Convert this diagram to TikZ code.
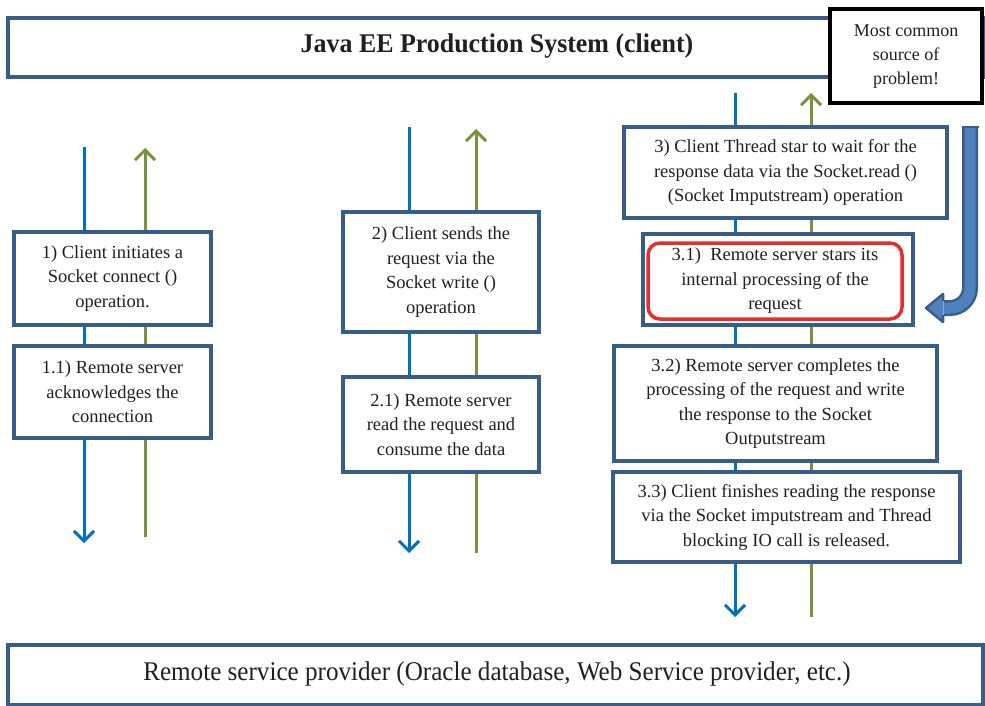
\documentclass[tikz,border=0pt]{standalone}
\usepackage{fontspec}
\setmainfont{Liberation Serif}
\usetikzlibrary{arrows.meta}
\definecolor{boxblue}{RGB}{56,93,138}
\definecolor{lineblue}{RGB}{0,112,192}
\definecolor{linegreen}{RGB}{119,147,60}
\definecolor{hotred}{RGB}{232,45,45}
\definecolor{arrowfill}{RGB}{79,129,189}
\definecolor{txt}{RGB}{35,31,32}
\tikzset{
  stepbox/.style={draw=boxblue, line width=4pt, fill=white, inner sep=0pt, align=center,
    font=\fontsize{18.5}{24.5}\selectfont, text=txt},
  downflow/.style={draw=lineblue, line width=3pt, -{Straight Barb[length=10pt,width=20pt]}},
  upflow/.style={draw=linegreen, line width=3pt, -{Straight Barb[length=10pt,width=20pt]}},
  blockedge/.style={boxblue, line width=2.5pt, line join=round},
}
\begin{document}
\begin{tikzpicture}[x=1pt,y=-1pt]
\useasboundingbox (0,0) rectangle (985,706);
\fill[white] (0,0) rectangle (985,706);
% flow line end points
\coordinate (b1s) at (84,147);  \coordinate (b1e) at (84,543);
\coordinate (g1s) at (145,537); \coordinate (g1e) at (145,148);
\coordinate (b2s) at (409,127); \coordinate (b2e) at (409,553);
\coordinate (g2s) at (476,553); \coordinate (g2e) at (476,129);
\coordinate (b3s) at (735,93);  \coordinate (b3e) at (735,617);
\coordinate (g3s) at (811,617); \coordinate (g3e) at (811,93);
\draw[downflow] (b1s) -- (b1e);
\draw[upflow] (g1s) -- (g1e);
\draw[downflow] (b2s) -- (b2e);
\draw[upflow] (g2s) -- (g2e);
\draw[downflow] (b3s) -- (b3e);
\draw[upflow] (g3s) -- (g3e);
% title and bottom
\node[draw=boxblue, line width=4pt, fill=white, minimum width=975pt, minimum height=59pt, inner sep=0pt] (title) at (495.5,47.5) {};
\node[text=txt, inner sep=0pt] (titletext) at (497,46.5) {\scalebox{0.96}[1]{\fontsize{27}{30}\selectfont\bfseries Java EE Production System (client)}};
\node[draw=black, line width=4pt, fill=white, minimum width=152pt, minimum height=94pt, inner sep=0pt, align=center, text=txt, font=\fontsize{18}{24}\selectfont] (callout) at (906,56.5) {Most common\\source of\\problem!};
\node[draw=boxblue, line width=4pt, fill=white, minimum width=975pt, minimum height=60pt, inner sep=0pt] (remote) at (495.5,675) {};
\node[text=txt, inner sep=0pt] (remotetext) at (497,674.5) {\scalebox{0.93}[1]{\fontsize{27}{30}\selectfont Remote service provider (Oracle database, Web Service provider, etc.)}};
% column 1
\node[stepbox, minimum width=197pt, minimum height=93pt] (s1) at (112.5,278.5) {1) Client initiates a\\Socket connect ()\\operation.};
\node[stepbox, minimum width=197pt, minimum height=92pt] (s11) at (112.5,392) {1.1) Remote server\\acknowledges the\\connection};
% column 2
\node[stepbox, minimum width=196pt, minimum height=120pt] (s2) at (441,272) {2) Client sends the\\request via the\\Socket write ()\\operation};
\node[stepbox, minimum width=196pt, minimum height=95pt] (s21) at (441,424.5) {2.1) Remote server\\read the request and\\consume the data};
% column 3
\node[stepbox, minimum width=323pt, minimum height=91pt] (s3) at (785.5,172.5) {3) Client Thread star to wait for the\\response data via the Socket.read ()\\(Socket Imputstream) operation};
\node[stepbox, minimum width=270pt, minimum height=91pt] (s31) at (778,279.5) {};
\node[draw=hotred, line width=3.5pt, rounded corners=12pt, fill=white, minimum width=254pt, minimum height=76pt, inner sep=0pt, align=center, text=txt, font=\fontsize{18.5}{24.5}\selectfont] (s31r) at (775,281) {3.1)\ \ Remote server stars its\\internal processing of the\\request};
\node[stepbox, minimum width=323pt, minimum height=115pt] (s32) at (775.5,403.5) {3.2) Remote server completes the\\processing of the request and write\\the response to the Socket\\Outputstream};
\node[stepbox, minimum width=347pt, minimum height=90pt] (s33) at (786.5,517) {3.3) Client finishes reading the response\\via the Socket imputstream and Thread\\blocking IO call is released.};
% curved block arrow pointing at step 3.1
\coordinate (ca) at (970,127);
\coordinate (cb) at (970,288);
\coordinate (cc) at (943.5,308);
\coordinate (htop) at (943,294);
\coordinate (htip) at (926,308);
\coordinate (hbot) at (943,322);
\draw[boxblue, line width=2.5pt, double=arrowfill, double distance=11pt] (ca) -- (cb) arc[start angle=0, end angle=90, radius=20] -- (cc);
\draw[blockedge] (961.5,127) -- (978.5,127);
\fill[arrowfill] (htop) -- (htip) -- (hbot) -- cycle;
\draw[blockedge] (943,301.25) -- (htop) -- (htip) -- (hbot) -- (943,314.75);
\end{tikzpicture}
\end{document}
